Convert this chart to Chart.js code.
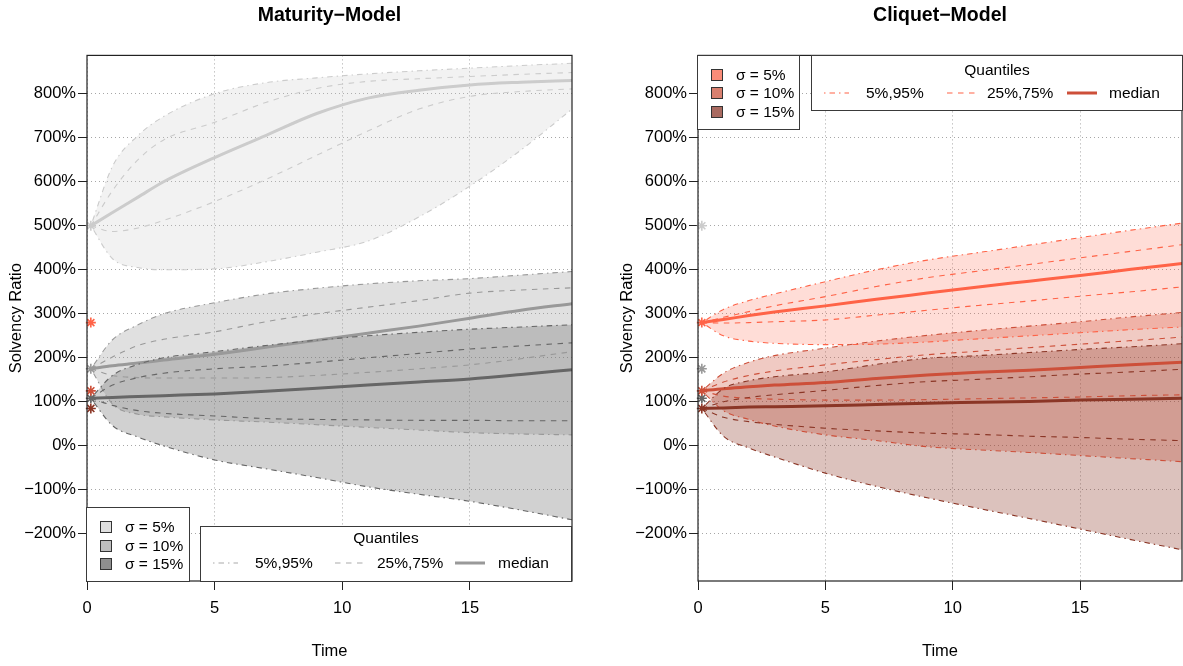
<!DOCTYPE html>
<html>
<head>
<meta charset="utf-8">
<script src="https://cdn.jsdelivr.net/npm/chart.js@4"></script>
<style>
  body { margin: 0; background: #fff; }
  #wrap { position: relative; width: 1183px; height: 666px; overflow: hidden; font-family: 'Liberation Sans', Arial, Helvetica, sans-serif; }
  canvas { position: absolute; top: 0; }
  .box { position: absolute; background: #fff; border: 1px solid #3a3a3a; box-sizing: border-box; }
  .txt { position: absolute; font-size: 15.5px; line-height: 20px; white-space: nowrap; color: #000; }
  .sw { position: absolute; width: 12px; height: 12px; border: 1px solid #333; box-sizing: border-box; }
  svg { position: absolute; overflow: visible; }
</style>
</head>
<body>
<div id="wrap">
  <canvas id="left" width="591" height="666" style="left:0"></canvas>
  <canvas id="right" width="572" height="666" style="left:611px"></canvas>
</div>
<script>
const FONT = "'Liberation Sans', Arial, Helvetica, sans-serif";

const times = [0.15, 1, 2, 3, 5, 7, 9, 11, 13, 15, 17, 19];
const xTicks = [0, 5, 10, 15];
const yTicks = [-200, -100, 0, 100, 200, 300, 400, 500, 600, 700, 800];
const sigmaLabels = ['σ = 5%', 'σ = 10%', 'σ = 15%'];
const quantileLabels = ['5%,95%', '25%,75%', 'median'];

// Maturity-Model, solvency ratio in %
const mat5Q05 = [500, 425, 405, 400, 402, 418, 440, 465, 520, 590, 672, 765];
const mat5Q25 = [500, 487, 495, 512, 555, 605, 660, 715, 765, 794, 805, 811];
const mat5Med = [500, 530, 565, 600, 655, 705, 755, 790, 808, 820, 826, 830];
const mat5Q75 = [500, 580, 650, 695, 735, 780, 812, 828, 834, 839, 844, 848];
const mat5Q95 = [500, 635, 705, 748, 800, 825, 836, 845, 852, 858, 864, 869];

const mat10Q05 = [175, 95, 72, 66, 59, 54, 48, 42, 36, 30, 27, 25];
const mat10Q25 = [175, 160, 155, 154, 154, 155, 160, 167, 175, 184, 198, 214];
const mat10Med = [175, 182, 188, 195, 208, 224, 240, 256, 272, 290, 308, 323];
const mat10Q75 = [175, 202, 228, 242, 259, 282, 300, 315, 330, 347, 354, 359];
const mat10Q95 = [175, 241, 275, 300, 325, 345, 358, 368, 375, 380, 388, 396];

const mat15Q05 = [108, 46, 20, 0, -32, -52, -72, -93, -110, -126, -146, -168];
const mat15Q25 = [108, 92, 80, 74, 68, 62, 60, 59, 58, 58, 57, 57];
const mat15Med = [108, 110, 112, 114, 118, 124, 131, 138, 145, 152, 162, 173];
const mat15Q75 = [108, 138, 155, 165, 175, 181, 190, 200, 210, 220, 227, 234];
const mat15Q95 = [108, 160, 185, 200, 214, 228, 240, 250, 258, 265, 270, 275];

// Cliquet-Model
const cli5Q05 = [280, 250, 238, 233, 230, 231, 236, 243, 250, 257, 264, 270];
const cli5Q25 = [280, 279, 280, 282, 286, 297, 308, 319, 329, 340, 350, 361];
const cli5Med = [280, 287, 296, 304, 318, 333, 347, 361, 374, 387, 401, 414];
const cli5Q75 = [280, 292, 305, 318, 339, 362, 382, 397, 412, 427, 442, 457];
const cli5Q95 = [280, 310, 330, 345, 373, 400, 422, 439, 456, 473, 490, 506];

const cli10Q05 = [125, 80, 60, 45, 25, 12, -2, -9, -15, -22, -29, -36];
const cli10Q25 = [125, 113, 108, 106, 104, 104, 105, 107, 109, 111, 114, 116];
const cli10Med = [125, 130, 134, 138, 144, 153, 161, 167, 172, 178, 184, 190];
const cli10Q75 = [125, 145, 160, 170, 184, 196, 207, 215, 223, 231, 239, 247];
const cli10Q95 = [125, 165, 190, 205, 222, 238, 251, 262, 272, 282, 293, 303];

const cli15Q05 = [85, 22, -5, -25, -62, -92, -118, -142, -165, -189, -213, -236];
const cli15Q25 = [85, 65, 55, 49, 40, 34, 29, 26, 22, 19, 15, 12];
const cli15Med = [85, 86, 88, 89, 91, 94, 97, 99, 101, 104, 106, 108];
const cli15Q75 = [85, 100, 110, 116, 126, 137, 146, 151, 157, 163, 168, 174];
const cli15Q95 = [85, 130, 148, 157, 168, 185, 199, 205, 212, 219, 225, 232];

const matStart = [500, 175, 108];
const cliStart = [280, 125, 85];
const startTime = 0.15;

const grayLines = ['#cccccc', '#999999', '#666666'];
const grayFills = ['rgba(204,204,204,0.25)', 'rgba(153,153,153,0.3)', 'rgba(102,102,102,0.3)'];
const graySwatch = ['#e0e0e0', '#bebebe', '#8f8f8f'];
const redLines = ['#ff6347', '#cd4f39', '#8b3626'];
const redFills = ['rgba(255,99,71,0.22)', 'rgba(205,79,57,0.3)', 'rgba(139,54,38,0.3)'];
const redSwatch = ['#fa8c78', '#d9806f', '#a96a60'];

const DASHDOT = [1.5, 4, 5.5, 4];
const DASHED = [5.5, 5.5];

const pts = arr => arr.map((v, i) => ({ x: times[i], y: v }));

function bandSets(q05, q25, med, q75, q95, color, fill) {
    const base = { borderColor: color, pointRadius: 0, cubicInterpolationMode: 'monotone', fill: false };
    return [
        { ...base, data: pts(q05), borderWidth: 1.1, borderDash: DASHDOT },
        { ...base, data: pts(q95), borderWidth: 1.1, borderDash: DASHDOT, fill: '-1', backgroundColor: fill },
        { ...base, data: pts(q25), borderWidth: 1.1, borderDash: DASHED },
        { ...base, data: pts(q75), borderWidth: 1.1, borderDash: DASHED },
        { ...base, data: pts(med), borderWidth: 3 }
    ];
}

function starSet() {
    return {
        data: [...matStart, ...cliStart].map(v => ({ x: startTime, y: v })),
        showLine: false,
        pointStyle: 'star',
        pointRadius: 5,
        pointBorderWidth: 1.6,
        pointBorderColor: [...grayLines, ...redLines],
        clip: false
    };
}

const frame = {
    id: 'frame',
    afterDatasetsDraw(chart) {
        const { ctx, chartArea: a } = chart;
        ctx.save();
        ctx.strokeStyle = '#222';
        ctx.lineWidth = 1.2;
        ctx.strokeRect(a.left, a.top, a.right - a.left, a.bottom - a.top);
        ctx.restore();
    }
};

const pct = v => (v < 0 ? '\u2212' : '') + Math.abs(v) + '%';

function makeChart(id, title, datasets, padRight) {
    const tickFont = { family: FONT, size: 16.5 };
    return new Chart(document.getElementById(id), {
        type: 'line',
        data: { datasets },
        options: {
            responsive: false,
            animation: false,
            layout: { autoPadding: false, padding: { left: 0, right: padRight, top: 0, bottom: 0 } },
            plugins: {
                legend: { display: false },
                tooltip: { enabled: false },
                filler: { drawTime: 'beforeDatasetsDraw' },
                title: {
                    display: true, text: title, fullSize: false, color: '#000',
                    font: { family: FONT, size: 19.5, weight: 'bold' },
                    padding: { top: 4, bottom: 28 }
                }
            },
            scales: {
                x: {
                    type: 'linear', min: 0, max: 19,
                    afterBuildTicks: s => { s.ticks = xTicks.map(v => ({ value: v })); },
                    afterFit: s => { s.height = 85; s.paddingLeft = 0; s.paddingRight = 0; },
                    ticks: { font: tickFont, color: '#000', padding: 9, maxRotation: 0, callback: v => String(v) },
                    grid: { color: '#a6a6a6', lineWidth: 1, tickLength: 9, tickColor: '#222', tickWidth: 1 },
                    border: { display: false, dash: [1, 3] },
                    title: { display: true, text: 'Time', color: '#000', font: tickFont, padding: { top: 0, bottom: 5 } }
                },
                y: {
                    min: -307, max: 887,
                    afterBuildTicks: s => { s.ticks = yTicks.map(v => ({ value: v })); },
                    afterFit: s => { s.width = 87; },
                    ticks: { font: tickFont, color: '#000', padding: 2, callback: pct },
                    grid: { color: '#a6a6a6', lineWidth: 1, tickLength: 9, tickColor: '#222', tickWidth: 1 },
                    border: { display: false, dash: [1, 3] },
                    title: { display: true, text: 'Solvency Ratio', color: '#000', font: tickFont, padding: { top: 7, bottom: 0 } }
                }
            }
        },
        plugins: [frame]
    });
}

makeChart('left', 'Maturity\u2212Model', [
    starSet(),
    ...bandSets(mat15Q05, mat15Q25, mat15Med, mat15Q75, mat15Q95, grayLines[2], grayFills[2]),
    ...bandSets(mat10Q05, mat10Q25, mat10Med, mat10Q75, mat10Q95, grayLines[1], grayFills[1]),
    ...bandSets(mat5Q05, mat5Q25, mat5Med, mat5Q75, mat5Q95, grayLines[0], grayFills[0])
], 19);

makeChart('right', 'Cliquet\u2212Model', [
    starSet(),
    ...bandSets(cli15Q05, cli15Q25, cli15Med, cli15Q75, cli15Q95, redLines[2], redFills[2]),
    ...bandSets(cli10Q05, cli10Q25, cli10Med, cli10Q75, cli10Q95, redLines[1], redFills[1]),
    ...bandSets(cli5Q05, cli5Q25, cli5Med, cli5Q75, cli5Q95, redLines[0], redFills[0])
], 1);

// legends drawn as html on top of the canvases
const wrap = document.getElementById('wrap');

function el(cls, x, y, w, h) {
    const d = document.createElement('div');
    d.className = cls;
    d.style.left = x + 'px';
    d.style.top = y + 'px';
    if (w != null) d.style.width = w + 'px';
    if (h != null) d.style.height = h + 'px';
    wrap.appendChild(d);
    return d;
}

function text(str, x, cy, center) {
    const d = el('txt', x, cy - 10);
    d.textContent = str;
    if (center) d.style.transform = 'translateX(-50%)';
    return d;
}

function sample(x1, x2, y, color, width, dash) {
    const ns = 'http://www.w3.org/2000/svg';
    const svg = document.createElementNS(ns, 'svg');
    svg.setAttribute('width', x2 - x1);
    svg.setAttribute('height', 10);
    svg.style.left = x1 + 'px';
    svg.style.top = (y - 5) + 'px';
    const ln = document.createElementNS(ns, 'line');
    ln.setAttribute('x1', 0); ln.setAttribute('x2', x2 - x1);
    ln.setAttribute('y1', 5); ln.setAttribute('y2', 5);
    ln.setAttribute('stroke', color);
    ln.setAttribute('stroke-width', width);
    if (dash) ln.setAttribute('stroke-dasharray', dash.join(' '));
    svg.appendChild(ln);
    wrap.appendChild(svg);
}

function sigmaLegend(x, y, w, h, rows, swX, txtX, colors) {
    el('box', x, y, w, h);
    rows.forEach((cy, i) => {
        const s = el('sw', swX, cy - 6);
        s.style.background = colors[i];
        text(sigmaLabels[i], txtX, cy);
    });
}

function quantileLegend(x, y, w, h, head, rowY, spans, txtXs, thin, thick) {
    el('box', x, y, w, h);
    text('Quantiles', head[0], head[1], true);
    sample(spans[0][0], spans[0][1], rowY, thin, 1.2, DASHDOT);
    sample(spans[1][0], spans[1][1], rowY, thin, 1.2, DASHED);
    sample(spans[2][0], spans[2][1], rowY, thick, 3, null);
    quantileLabels.forEach((q, i) => text(q, txtXs[i], rowY));
}

sigmaLegend(86, 507, 104, 75, [527, 545.5, 564], 100, 125, graySwatch);
quantileLegend(200, 526, 372, 56, [386, 538], 563,
    [[213, 238], [335, 363], [455, 485]], [255, 377, 498], '#aaaaaa', '#999999');

sigmaLegend(697, 55, 103, 75, [74.5, 93, 111.5], 711, 736, redSwatch);
quantileLegend(811, 55, 372, 56, [997, 69.5], 92.5,
    [[824, 849], [947, 975], [1067, 1097]], [866, 987, 1109], '#ff6347', '#cd4f39');
</script>
</body>
</html>
